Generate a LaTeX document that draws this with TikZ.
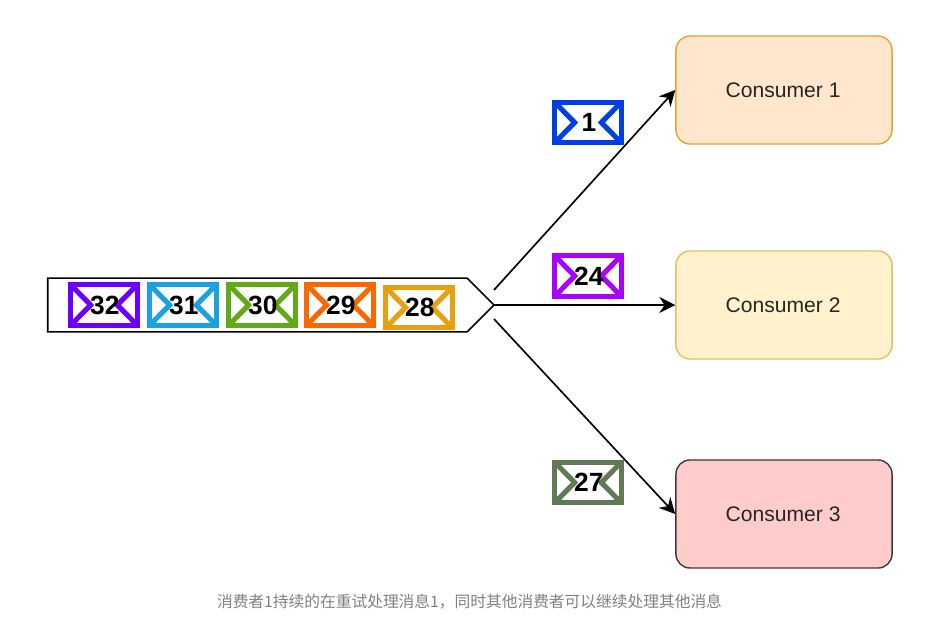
\documentclass[tikz,border=0pt]{standalone}
\usepackage{fontspec}
\setmainfont{Liberation Sans}
\newfontfamily\cjkfont{Noto Sans CJK SC}
\usetikzlibrary{arrows.meta,calc,shapes.symbols}

\definecolor{mailviolet}{HTML}{6A00FF}
\definecolor{mailcyan}{HTML}{1BA1E2}
\definecolor{mailgreen}{HTML}{60A917}
\definecolor{mailorange}{HTML}{FA6800}
\definecolor{mailamber}{HTML}{E8A010}
\definecolor{mailblue}{HTML}{0040E0}
\definecolor{mailpurple}{HTML}{AA00FF}
\definecolor{mailolive}{HTML}{5F7A55}
\definecolor{consorange}{HTML}{FFE6CC}
\definecolor{consyellow}{HTML}{FFF2CC}
\definecolor{consred}{HTML}{FFCCCC}
\definecolor{edgeorange}{HTML}{E0A52A}
\definecolor{edgeyellow}{HTML}{DDBE66}
\definecolor{edgered}{HTML}{36393D}

\tikzset{
  mail/.style={draw=#1, fill=white, line width=2.8pt, inner sep=0pt,
    minimum width=38pt, minimum height=23.2pt,
    font=\bfseries\fontsize{15}{15}\selectfont,
    path picture={
      \coordinate (ppw) at ($(path picture bounding box.west)!0.3!(path picture bounding box.east)$);
      \coordinate (ppe) at ($(path picture bounding box.west)!0.7!(path picture bounding box.east)$);
      \draw[#1, line width=2.9pt] (path picture bounding box.north west) -- (ppw) -- (path picture bounding box.south west);
      \draw[#1, line width=2.9pt] (path picture bounding box.north east) -- (ppe) -- (path picture bounding box.south east);
    }},
  consumer/.style={draw=#1, line width=0.8pt, rounded corners=8pt,
    minimum width=123pt, minimum height=61.5pt, text=black!85, font=\fontsize{12}{12}\selectfont},
  flow/.style={-{Stealth[length=9pt,width=9pt]}, line width=0.95pt}
}

\begin{document}
\begin{tikzpicture}[x=0.02cm, y=-0.02cm]
  \useasboundingbox (0,0) rectangle (948,626);

  % queue holding the waiting messages
  \node[draw, line width=0.95pt, shape=signal, signal to=east, signal from=nowhere,
    signal pointer angle=90, inner sep=0pt, outer sep=0pt,
    minimum width=254pt, minimum height=30.6pt, anchor=east] (queue) at (494,305) {};

  \foreach \num/\col/\xpos/\ypos in {32/mailviolet/104/305, 31/mailcyan/183/305,
      30/mailgreen/262/305, 29/mailorange/340/305, 28/mailamber/419/307.5}
    \node[mail=\col] (msg\num) at (\xpos,\ypos) {\raisebox{-0.5pt}{\kern1pt\num}};

  % consumers
  \node[consumer=edgeorange, fill=consorange] (cons1) at (784,90) {\kern-1pt Consumer 1};
  \node[consumer=edgeyellow, fill=consyellow] (cons2) at (784,305) {\kern-1pt Consumer 2};
  \node[consumer=edgered, fill=consred] (cons3) at (784,514) {\kern-1pt Consumer 3};

  % messages being handled
  \node[mail=mailblue] (msg1) at (588,122.5) {\raisebox{-0.5pt}{\kern1pt 1}};
  \node[mail=mailpurple] (msg24) at (588,276) {\raisebox{-0.5pt}{\kern1pt 24}};
  \node[mail=mailolive] (msg27) at (588,482.5) {\raisebox{-0.5pt}{\kern1pt 27}};

  \coordinate (tailup) at (494,290);
  \coordinate (taildown) at (494,319);
  \draw[flow] (tailup) -- (cons1.west);
  \draw[flow] (queue.east) -- (cons2.west);
  \draw[flow] (taildown) -- (cons3.west);

  \node[text=black!50, font=\cjkfont\fontsize{8.95}{10}\selectfont] (caption) at (469.5,601.5)
    {消费者1持续的在重试处理消息1，同时其他消费者可以继续处理其他消息};
\end{tikzpicture}
\end{document}
